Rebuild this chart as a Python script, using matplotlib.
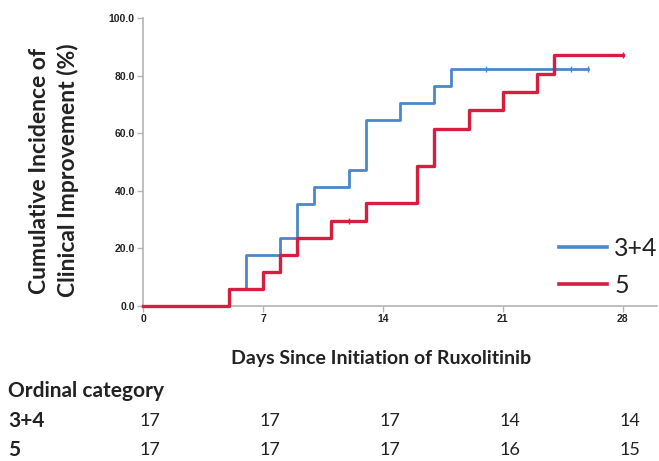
import matplotlib
matplotlib.use("Agg")
import matplotlib.pyplot as plt
import matplotlib.transforms as mtransforms

# step curves: time (days) and cumulative incidence (%)
blue_times = [0, 5, 6, 8, 9, 10, 12, 13, 15, 17, 18, 26]
blue_ci = [0, 5.9, 17.6, 23.5, 35.3, 41.2, 47.1, 64.7, 70.6, 76.5, 82.4, 82.4]
blue_cens_t = [20, 25, 26]
blue_cens_y = [82.4, 82.4, 82.4]

red_times = [0, 5, 7, 8, 9, 11, 13, 16, 17, 19, 21, 23, 24, 28]
red_ci = [0, 5.9, 11.8, 17.6, 23.5, 29.4, 35.8, 48.7, 61.5, 67.9, 74.3, 80.7, 87.2, 87.2]
red_cens_t = [12, 28]
red_cens_y = [29.4, 87.2]

groups = ["3+4", "5"]
risk_days = [0, 7, 14, 21, 28]
risk_34 = [17, 17, 17, 14, 14]
risk_5 = [17, 17, 17, 16, 15]

BLUE = "#4b87cb"
RED = "#d71d40"
GRID = "#b4b4b4"

plt.rcParams["font.family"] = ["Lato", "DejaVu Sans"]

fig = plt.figure(figsize=(6.59, 4.61), dpi=100)
ax = fig.add_axes([0.217, 0.336, 0.78, 0.625])

ax.plot(blue_times, blue_ci, drawstyle="steps-post", color=BLUE, lw=2, label=groups[0], zorder=3)
ax.plot(red_times, red_ci, drawstyle="steps-post", color=RED, lw=2.4, label=groups[1], zorder=4)
ax.plot(blue_cens_t, blue_cens_y, ls="none", marker="|", ms=5, mew=1, color=BLUE, zorder=3)
ax.plot(red_cens_t, red_cens_y, ls="none", marker="|", ms=5, mew=1, color=RED, zorder=4)

ax.set_xlim(0, 30)
ax.set_ylim(0, 100)
ax.set_xticks(risk_days)
ax.set_yticks([0, 20, 40, 60, 80, 100])
ax.set_yticklabels([f"{v:.1f}" for v in [0, 20, 40, 60, 80, 100]])
for lab in ax.get_xticklabels() + ax.get_yticklabels():
    lab.set_family(["Liberation Sans", "DejaVu Sans"])
    lab.set_fontweight("bold")
    lab.set_fontsize(7.5)
ax.tick_params(colors=GRID, labelcolor="#222222", length=4, width=1, pad=2)
for s in ["top", "right"]:
    ax.spines[s].set_visible(False)
for s in ["left", "bottom"]:
    ax.spines[s].set_color(GRID)
    ax.spines[s].set_linewidth(1.2)
for ln in ax.lines:
    ln.set_clip_on(False)

ax.set_ylabel("Cumulative Incidence of\nClinical Improvement (%)", fontsize=16.5,
              fontweight="bold", color="#222222", linespacing=1.35)
ax.yaxis.set_label_coords(-0.125, 0.47)

leg = ax.legend(loc="lower right", bbox_to_anchor=(1.045, -0.045), frameon=False,
                fontsize=18, handlelength=1.9, handletextpad=0.3, labelspacing=0.55)
for h in leg.get_lines():
    h.set_linewidth(2.6)
for t in leg.get_texts():
    t.set_color("#222222")

# x label and risk table
fig.text(0.578, 0.222, "Days Since Initiation of Ruxolitinib", ha="center", va="center",
         fontsize=14, fontweight="bold", color="#222222")
fig.text(0.012, 0.152, "Ordinal category", ha="left", va="center",
         fontsize=15, fontweight="bold", color="#222222")
row_y = [0.087, 0.024]
trans = mtransforms.blended_transform_factory(ax.transData, fig.transFigure)
for y, g, vals in zip(row_y, groups, [risk_34, risk_5]):
    fig.text(0.012, y, g, ha="left", va="center", fontsize=15, fontweight="bold", color="#222222")
    for d, v in zip(risk_days, vals):
        fig.text(d + 0.4, y, str(v), transform=trans, ha="center", va="center",
                 fontsize=13, color="#222222")

fig.savefig("out.png", dpi=100)
